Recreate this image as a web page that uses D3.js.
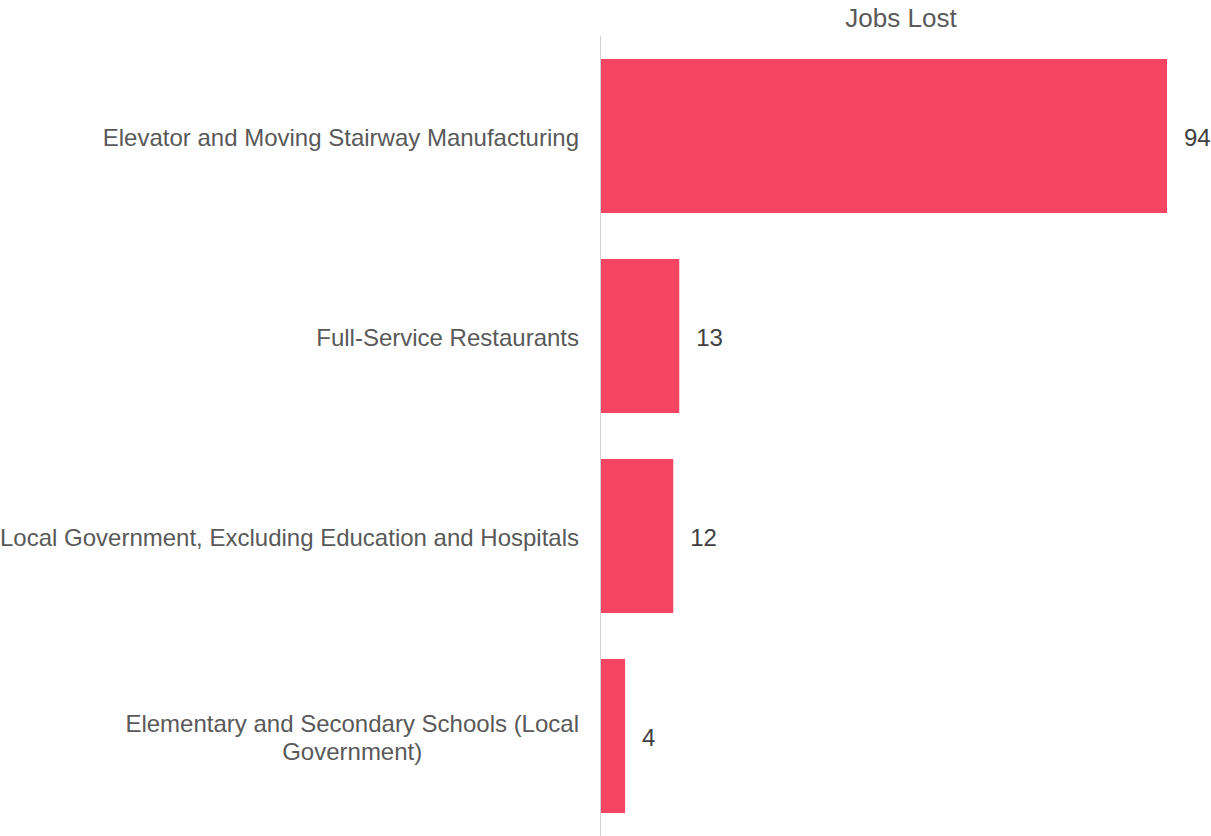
<!DOCTYPE html>
<html>
<head>
<meta charset="utf-8">
<script src="https://cdn.jsdelivr.net/npm/d3@7"></script>
<style>
  html, body { margin: 0; padding: 0; background: #fff; }
  svg { display: block; font-family: "Liberation Sans", Arial, sans-serif; }
</style>
</head>
<body>
<svg id="chart" width="1211" height="836"></svg>
<script>
// Jobs lost by industry
const categories = [
  "Elevator and Moving Stairway Manufacturing",
  "Full-Service Restaurants",
  "Local Government, Excluding Education and Hospitals",
  "Elementary and Secondary Schools (Local Government)"
];
const jobsLost = [94, 13, 12, 4];
const seriesName = "Jobs Lost";

const svg = d3.select("#chart");
const barColor = "#f64563";
const labelWrap = 580;
const fontSize = 24;

const x = d3.scaleLinear().domain([0, 94]).range([601, 1167]);
const y = d3.scaleBand().domain(categories).range([36, 836])
  .paddingInner(0.23).paddingOuter(0.115);

// series title
svg.append("text")
  .attr("x", 901).attr("y", 27)
  .attr("text-anchor", "middle")
  .attr("font-size", 26)
  .attr("fill", "#595959")
  .text(seriesName);

// bars
svg.append("g").selectAll("rect")
  .data(categories)
  .join("rect")
  .attr("x", x(0))
  .attr("y", d => y(d))
  .attr("width", (d, i) => x(jobsLost[i]) - x(0))
  .attr("height", y.bandwidth())
  .attr("fill", barColor);

// category axis line
svg.append("line")
  .attr("x1", 600.5).attr("x2", 600.5)
  .attr("y1", 36).attr("y2", 836)
  .attr("stroke", "#d0d0d0").attr("stroke-width", 1);

// value labels
svg.append("g").selectAll("text")
  .data(categories)
  .join("text")
  .attr("x", (d, i) => x(jobsLost[i]) + 17)
  .attr("y", d => y(d) + y.bandwidth() / 2)
  .attr("dy", "0.42em")
  .attr("font-size", fontSize)
  .attr("fill", "#404040")
  .text((d, i) => jobsLost[i]);

// category labels, wrapped and centred on their own block, right edge at 579
const labelRight = 579;
const lineH = 28.5;
const gLabels = svg.append("g");
categories.forEach(cat => {
  const probe = gLabels.append("text").attr("font-size", fontSize);
  const words = cat.split(" ");
  const lines = [];
  let cur = [];
  words.forEach(w => {
    const trial = cur.concat(w).join(" ");
    probe.text(trial);
    if (probe.node().getComputedTextLength() > labelWrap && cur.length) {
      lines.push(cur.join(" "));
      cur = [w];
    } else {
      cur.push(w);
    }
  });
  lines.push(cur.join(" "));
  let maxW = 0;
  lines.forEach(l => { probe.text(l); maxW = Math.max(maxW, probe.node().getComputedTextLength()); });
  probe.remove();
  const cx = labelRight - maxW / 2;
  const cy = y(cat) + y.bandwidth() / 2;
  const t = gLabels.append("text")
    .attr("font-size", fontSize)
    .attr("fill", "#595959")
    .attr("text-anchor", "middle");
  lines.forEach((l, i) => {
    t.append("tspan")
      .attr("x", cx)
      .attr("y", cy + (i - (lines.length - 1) / 2) * lineH)
      .attr("dy", "0.42em")
      .text(l);
  });
});
</script>
</body>
</html>
